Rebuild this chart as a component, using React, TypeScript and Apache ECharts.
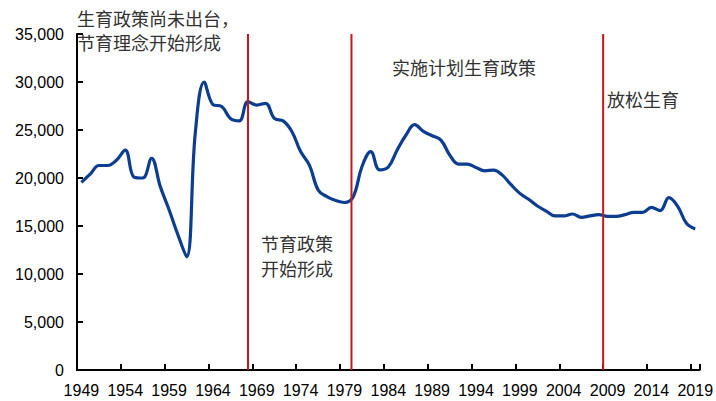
import React, { useEffect, useRef } from "react";
import * as echarts from "echarts";

const years: string[] = [];
for (let y = 1949; y <= 2019; y++) years.push(String(y));

const births: number[] = [
  19550, 20400, 21300, 21300, 21850, 22900, 20100, 20000, 22050, 19100,
  16700, 14100, 11800, 24800, 30000, 27650, 27450, 26200, 25950, 27950,
  27600, 27780, 26200, 25950, 24850, 22750, 21350, 18750, 18050, 17650,
  17450, 18050, 21200, 22750, 20850, 21150, 22900, 24450, 25550, 24850,
  24400, 23950, 22400, 21450, 21450, 21100, 20750, 20830, 20300, 19300,
  18400, 17780, 17080, 16560, 16050, 16050, 16250, 15900, 16050, 16180,
  16010, 16010, 16180, 16420, 16420, 16950, 16600, 17950, 17050, 15280,
  14690,
];

// positions of the policy dividers, measured in category units from the left edge
const dividerPositions: number[] = [19.5, 31.3, 60.0];

const yTicks = { min: 0, max: 35000, interval: 5000 };

const annotations: { text: string; x: number; y: number }[] = [
  { text: "生育政策尚未出台，", x: 77, y: 19 },
  { text: "节育理念开始形成", x: 77, y: 43 },
  { text: "实施计划生育政策", x: 392, y: 68 },
  { text: "放松生育", x: 607, y: 100 },
  { text: "节育政策", x: 261, y: 244 },
  { text: "开始形成", x: 261, y: 269 },
];

export default function App() {
  const ref = useRef<HTMLDivElement>(null);
  useEffect(() => {
    if (!ref.current) return;
    const chart = echarts.init(ref.current, undefined, { renderer: "svg" });
    const axisFont = "'Liberation Sans', Arial, sans-serif";
    const cjkFont = "'Noto Sans CJK SC', sans-serif";
    chart.setOption({
      animation: false,
      backgroundColor: "#ffffff",
      grid: { left: 77, right: 13, top: 34, bottom: 31, containLabel: false },
      xAxis: [
        {
          type: "category",
          data: years,
          boundaryGap: true,
          axisLine: { show: true, lineStyle: { color: "#000", width: 2 } },
          axisTick: {
            show: true,
            inside: true,
            length: 6,
            interval: 4,
            lineStyle: { color: "#000", width: 2 },
          },
          axisLabel: {
            interval: 4,
            color: "#000",
            fontSize: 16,
            fontFamily: axisFont,
            margin: 12,
          },
          splitLine: { show: false },
        },
        {
          type: "value",
          min: 0,
          max: years.length,
          show: false,
        },
      ],
      yAxis: {
        type: "value",
        min: yTicks.min,
        max: yTicks.max,
        interval: yTicks.interval,
        axisLine: { show: true, lineStyle: { color: "#000", width: 2 } },
        axisTick: {
          show: true,
          inside: true,
          length: 6,
          lineStyle: { color: "#000", width: 2 },
        },
        axisLabel: {
          color: "#000",
          fontSize: 16,
          fontFamily: axisFont,
          margin: 13,
          formatter: (v: number) => v.toLocaleString("en-US"),
        },
        splitLine: { show: false },
      },
      series: [
        {
          type: "line",
          data: births,
          smooth: 0.4,
          symbol: "none",
          lineStyle: { color: "#0b3d91", width: 3.2 },
          z: 2,
        },
        ...dividerPositions.map((p) => ({
          type: "line",
          xAxisIndex: 1,
          data: [
            [p, yTicks.min],
            [p, yTicks.max],
          ],
          symbol: "none",
          lineStyle: { color: "#c8161d", width: 2 },
          z: 3,
          silent: true,
        })),
      ],
      graphic: annotations.map((a) => ({
        type: "text",
        left: a.x,
        top: a.y - 10,
        style: {
          text: a.text,
          fill: "#333",
          fontSize: 18,
          fontFamily: cjkFont,
        },
        z: 10,
      })),
    });
    return () => chart.dispose();
  }, []);
  return (
    <div
      ref={ref}
      style={{ position: "fixed", left: 0, top: 0, width: 716, height: 401 }}
    />
  );
}
